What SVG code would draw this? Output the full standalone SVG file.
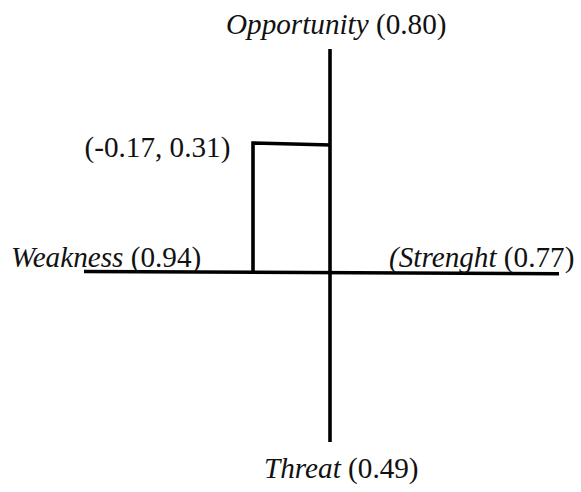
<svg xmlns="http://www.w3.org/2000/svg" width="581" height="492" viewBox="0 0 581 492">
<style>
text{font-family:'Liberation Serif','DejaVu Serif',serif;font-size:29.2px;fill:#111}
.it{font-style:italic}
.ax{stroke:#000;stroke-width:3.6;fill:none;stroke-linecap:butt}
</style>
<rect width="581" height="492" fill="#fff"/>
<g id="connectors">
<line class="ax" x1="330" y1="49" x2="330" y2="442"/>
<line class="ax" x1="84" y1="271.5" x2="559" y2="273.7"/>
<polyline class="ax" points="253,271.5 253,143 331,145"/>
</g>
<g id="opportunity"><text x="226" y="34"><tspan class="it">Opportunity</tspan> (0.80)</text></g>
<g id="point"><text x="84.5" y="157">(-0.17, 0.31)</text></g>
<g id="weakness"><text x="11" y="267"><tspan class="it">Weakness</tspan> (0.94)</text></g>
<g id="strength"><text x="389" y="267"><tspan class="it">(Strenght</tspan> (0.77)</text></g>
<g id="threat"><text x="264" y="478"><tspan class="it">Threat</tspan> (0.49)</text></g>
</svg>
